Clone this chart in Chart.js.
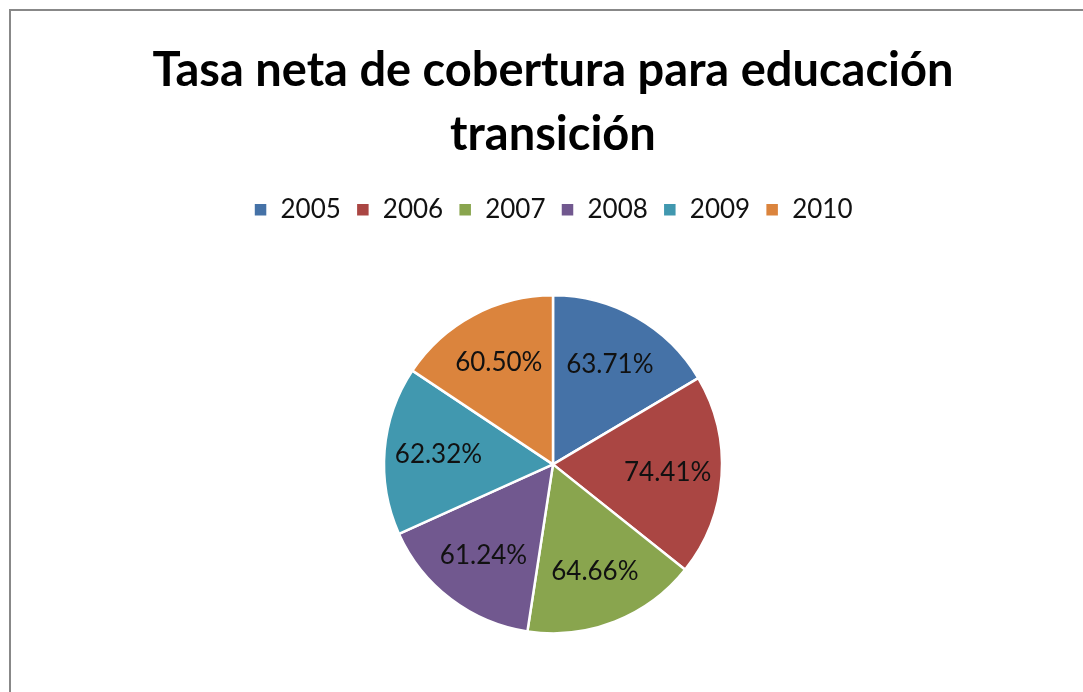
<!DOCTYPE html>
<html>
<head>
<meta charset="utf-8">
<script src="https://cdn.jsdelivr.net/npm/chart.js@4.4.0/dist/chart.umd.min.js"></script>
<style>
    body { margin: 0; background: #fff; overflow: hidden; }
    #frame {
        position: absolute;
        left: 9px;
        top: 9px;
        width: 1084px;
        height: 700px;
        border: 2px solid #888;
    }
    #chart { display: block; }
</style>
</head>
<body>
<div id="frame"><canvas id="chart" width="1084" height="686"></canvas></div>
<script>
const years = ['2005', '2006', '2007', '2008', '2009', '2010'];
const coverage = [63.71, 74.41, 64.66, 61.24, 62.32, 60.50];
const titleLines = ['Tasa neta de cobertura para educación', 'transición'];

const sliceColors = ['#4572A7', '#AA4643', '#89A54E', '#71588F', '#4198AF', '#DB843D'];
const fontName = 'Lato';

// etiquetas dentro de cada porción
const sliceLabels = {
    id: 'sliceLabels',
    afterDatasetsDraw(chart) {
        const c = chart.ctx;
        const meta = chart.getDatasetMeta(0);
        c.save();
        c.font = '26px ' + fontName;
        c.fillStyle = '#111';
        c.textAlign = 'center';
        c.textBaseline = 'middle';
        meta.data.forEach((arc, i) => {
            const p = arc.getProps(['x', 'y', 'startAngle', 'endAngle', 'outerRadius'], true);
            const mid = (p.startAngle + p.endAngle) / 2;
            const r = p.outerRadius * 0.68;
            c.fillText(coverage[i].toFixed(2) + '%', p.x + Math.cos(mid) * r, p.y + Math.sin(mid) * r);
        });
        c.restore();
    }
};

const ctx = document.getElementById('chart');
new Chart(ctx, {
    type: 'pie',
    data: {
        labels: years,
        datasets: [{
            data: coverage,
            backgroundColor: sliceColors,
            borderColor: '#fff',
            borderWidth: 2.5,
            radius: 169,
        }]
    },
    options: {
        responsive: false,
        animation: false,
        layout: { padding: { top: 27, bottom: 1 } },
        plugins: {
            title: {
                display: true,
                text: titleLines,
                color: '#000',
                font: { family: fontName, size: 47, weight: 'bold', lineHeight: 1.38 },
                padding: { top: 0, bottom: 14 },
            },
            legend: {
                position: 'top',
                labels: {
                    boxWidth: 14,
                    boxHeight: 14,
                    padding: 15,
                    color: '#111',
                    font: { family: fontName, size: 26 },
                },
            },
            tooltip: { enabled: false },
        }
    },
    plugins: [sliceLabels]
});
</script>
</body>
</html>
